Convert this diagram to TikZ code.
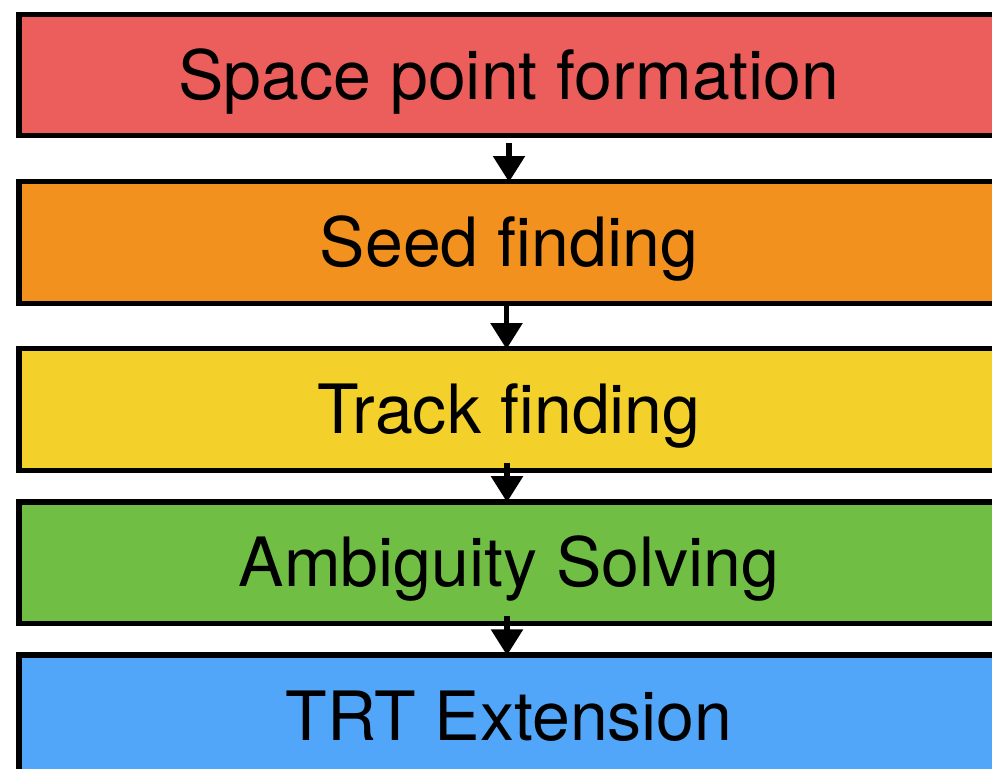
\documentclass[tikz,border=0pt]{standalone}
\usepackage{fontspec}
\setmainfont{TeX Gyre Heros}
\usetikzlibrary{arrows.meta}
\definecolor{stepred}{RGB}{235,94,91}
\definecolor{steporange}{RGB}{242,145,30}
\definecolor{stepyellow}{RGB}{244,208,42}
\definecolor{stepgreen}{RGB}{112,190,68}
\definecolor{stepblue}{RGB}{81,166,250}
\tikzset{
  stagebox/.style={draw=black, line width=5.3pt, fill=#1, rectangle,
    minimum width=980pt, minimum height=121.5pt, inner sep=0pt,
    text height=48.5pt, text depth=0pt,
    font=\fontsize{68pt}{80pt}\selectfont},
  flowarrow/.style={draw=black, line width=5.5pt,
    -{Triangle[length=26pt,width=31pt]}}
}
\begin{document}
\begin{tikzpicture}[x=1pt,y=-1pt]
  \useasboundingbox (0,0) rectangle (992,768);
  \clip (0,0) rectangle (992,768);

  % pipeline stages, top to bottom
  \node[stagebox=stepred]    (spf) at (509, 75.0)  {Space point formation};
  \node[stagebox=steporange] (sf)  at (509, 242.4) {Seed finding};
  \node[stagebox=stepyellow] (tf)  at (509, 409.5) {Track finding};
  \node[stagebox=stepgreen]  (as)  at (509, 562.6) {Ambiguity Solving};
  \node[stagebox=stepblue]   (trt) at (509, 715.8) {TRT Extension};

  % connectors between consecutive stages
  \draw[flowarrow] ([xshift=0pt,yshift=-5pt]spf.south) -- ([yshift=-3pt]sf.north);
  \draw[flowarrow] ([xshift=-2.5pt]sf.south) -- ([xshift=-2.5pt,yshift=-3pt]tf.north);
  \draw[flowarrow] ([xshift=-2pt,yshift=10pt]tf.south) -- ([xshift=-2pt,yshift=-3pt]as.north);
  \draw[flowarrow] ([xshift=-2pt,yshift=10pt]as.south) -- ([xshift=-2pt,yshift=-3pt]trt.north);
\end{tikzpicture}
\end{document}
